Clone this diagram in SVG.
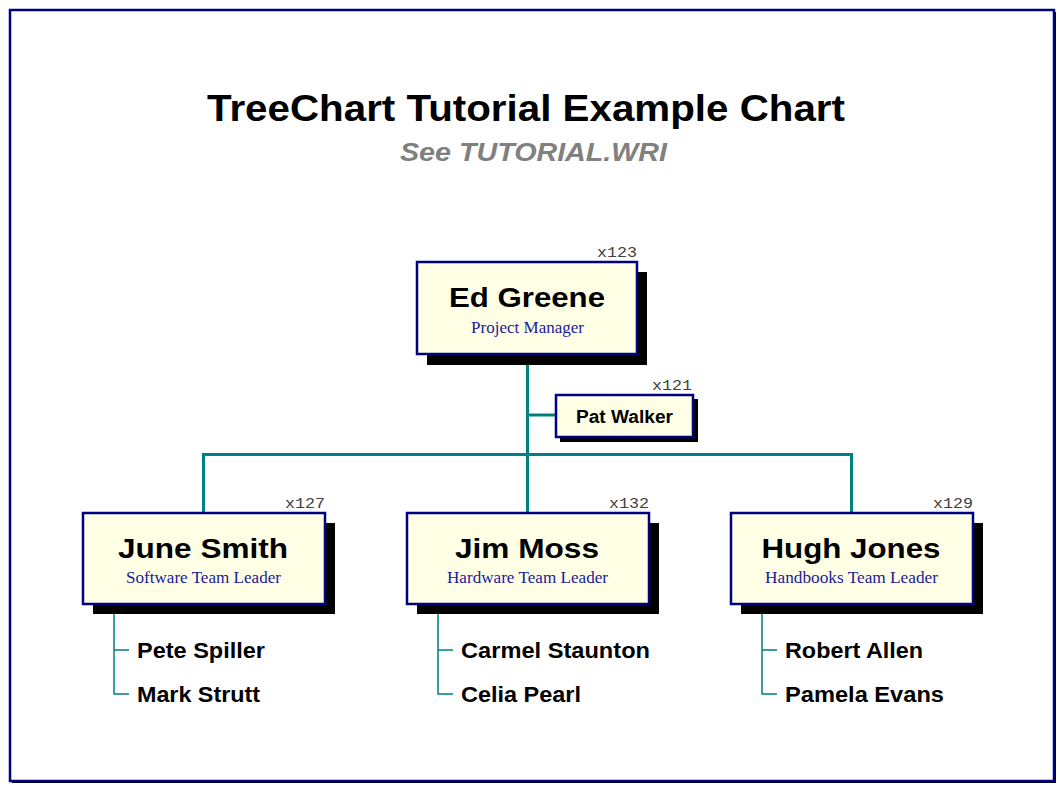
<svg xmlns="http://www.w3.org/2000/svg" width="1057" height="785" viewBox="0 0 1057 785">
<style>
.box{fill:#FFFFE6;stroke:#000080;stroke-width:2.5}
.shadow{fill:#000}
.name{font-family:"Liberation Sans",Arial,sans-serif;font-weight:bold;font-size:28px;fill:#000;text-anchor:middle}
.role{font-family:"Liberation Serif","Times New Roman",serif;font-size:16.5px;fill:#1a1a99;text-anchor:middle}
.ext{font-family:"Liberation Mono","Courier New",monospace;font-size:15px;fill:#404040;text-anchor:end}
.child{font-family:"Liberation Sans",Arial,sans-serif;font-weight:bold;font-size:22px;fill:#000}
.conn{fill:none;stroke:#008080;stroke-width:3}
.sub{fill:none;stroke:#008080;stroke-width:1.5}
</style>
<rect x="0" y="0" width="1057" height="785" fill="#fff"/>
<rect x="12" y="12" width="1044" height="771" fill="#000"/>
<rect x="10" y="10" width="1044" height="771" fill="#fff" stroke="#000080" stroke-width="2.5"/>
<g id="title">
<text x="526" y="121" font-family="Liberation Sans,Arial,sans-serif" font-weight="bold" font-size="37" text-anchor="middle" fill="#000" textLength="638" lengthAdjust="spacingAndGlyphs">TreeChart Tutorial Example Chart</text>
<text x="533.5" y="161" font-family="Liberation Sans,Arial,sans-serif" font-weight="bold" font-style="italic" font-size="26" text-anchor="middle" fill="#808080" textLength="267" lengthAdjust="spacingAndGlyphs">See TUTORIAL.WRI</text>
</g>
<g id="connectors">
<path class="conn" d="M527.5 355 V512 M203.5 512 V454.5 H851.5 V512 M527.5 415 H556"/>
<path class="sub" d="M114 605 V694 H129 M114 650 H129 M438 605 V694 H453 M438 650 H453 M762 605 V694 H777 M762 650 H777"/>
</g>
<g id="ed-greene">
<rect class="shadow" x="427" y="272" width="220" height="93"/>
<rect class="box" x="417" y="262" width="220" height="92"/>
<text class="ext" x="637" y="257" textLength="40" lengthAdjust="spacingAndGlyphs">x123</text>
<text class="name" x="527" y="307" textLength="156" lengthAdjust="spacingAndGlyphs">Ed Greene</text>
<text class="role" x="527.5" y="333" textLength="113" lengthAdjust="spacingAndGlyphs">Project Manager</text>
</g>
<g id="pat-walker">
<rect class="shadow" x="560" y="399" width="138" height="43"/>
<rect class="box" x="556" y="395" width="137" height="42" stroke-width="1.5"/>
<text class="ext" x="692" y="390" textLength="40" lengthAdjust="spacingAndGlyphs">x121</text>
<text x="624.5" y="423" font-family="Liberation Sans,Arial,sans-serif" font-weight="bold" font-size="18" text-anchor="middle" textLength="97" lengthAdjust="spacingAndGlyphs">Pat Walker</text>
</g>
<g id="june-smith">
<rect class="shadow" x="93" y="523" width="242" height="91"/>
<rect class="box" x="83" y="513" width="242" height="91"/>
<text class="ext" x="325" y="508" textLength="40" lengthAdjust="spacingAndGlyphs">x127</text>
<text class="name" x="203" y="558" textLength="170" lengthAdjust="spacingAndGlyphs">June Smith</text>
<text class="role" x="203.5" y="583" textLength="155" lengthAdjust="spacingAndGlyphs">Software Team Leader</text>
</g>
<g id="jim-moss">
<rect class="shadow" x="417" y="523" width="242" height="91"/>
<rect class="box" x="407" y="513" width="242" height="91"/>
<text class="ext" x="649" y="508" textLength="40" lengthAdjust="spacingAndGlyphs">x132</text>
<text class="name" x="527" y="558" textLength="144" lengthAdjust="spacingAndGlyphs">Jim Moss</text>
<text class="role" x="527.5" y="583" textLength="161" lengthAdjust="spacingAndGlyphs">Hardware Team Leader</text>
</g>
<g id="hugh-jones">
<rect class="shadow" x="741" y="523" width="242" height="91"/>
<rect class="box" x="731" y="513" width="242" height="91"/>
<text class="ext" x="973" y="508" textLength="40" lengthAdjust="spacingAndGlyphs">x129</text>
<text class="name" x="851" y="558" textLength="179" lengthAdjust="spacingAndGlyphs">Hugh Jones</text>
<text class="role" x="851.5" y="583" textLength="173" lengthAdjust="spacingAndGlyphs">Handbooks Team Leader</text>
</g>
<g id="children">
<text class="child" x="137" y="658" textLength="128" lengthAdjust="spacingAndGlyphs">Pete Spiller</text>
<text class="child" x="137" y="702" textLength="123" lengthAdjust="spacingAndGlyphs">Mark Strutt</text>
<text class="child" x="461" y="658" textLength="189" lengthAdjust="spacingAndGlyphs">Carmel Staunton</text>
<text class="child" x="461" y="702" textLength="120" lengthAdjust="spacingAndGlyphs">Celia Pearl</text>
<text class="child" x="785" y="658" textLength="138" lengthAdjust="spacingAndGlyphs">Robert Allen</text>
<text class="child" x="785" y="702" textLength="159" lengthAdjust="spacingAndGlyphs">Pamela Evans</text>
</g>
</svg>
